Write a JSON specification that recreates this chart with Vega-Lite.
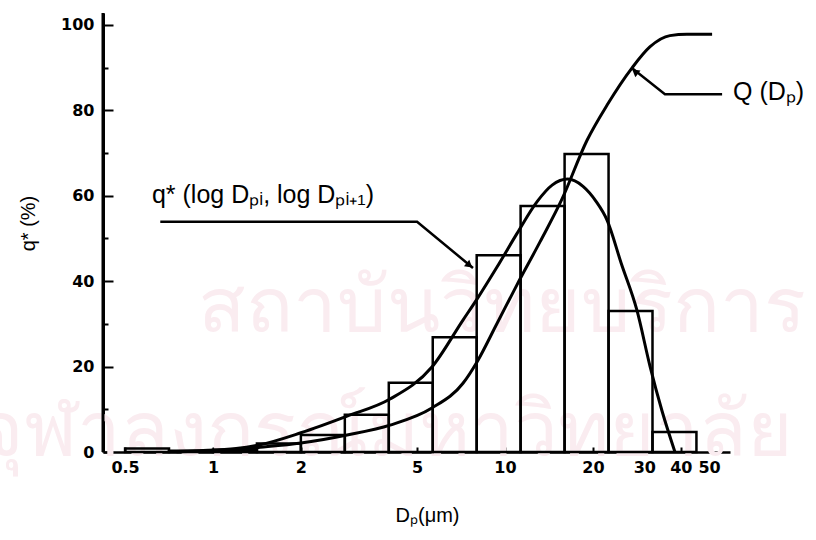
{
  "$schema": "https://vega.github.io/schema/vega-lite/v6.json",
  "width": 627,
  "height": 439,
  "autosize": "none",
  "padding": {"left": 103, "top": 13, "right": 86, "bottom": 88},
  "background": "white",
  "config": {
    "view": {"stroke": null},
    "axis": {
      "grid": false,
      "domainColor": "black",
      "domainWidth": 2.5,
      "tickColor": "black",
      "tickWidth": 2,
      "labelColor": "black",
      "titleColor": "black",
      "labelFont": "DejaVu Sans",
      "titleFont": "Liberation Sans",
      "zindex": 1
    }
  },
  "datasets": {
    "watermark": [
      {"D": 9.77, "v": 28.1, "text": "สถาบันวิทยบริการ"},
      {"D": 3.9, "v": -1.0, "text": "จุฬาลงกรณ์มหาวิทยาลัย"}
    ],
    "bars": [
      {"D": 0.5, "D2": 0.707, "v": 0.8},
      {"D": 0.707, "D2": 1.0, "v": 0.3},
      {"D": 1.0, "D2": 1.414, "v": 0.5},
      {"D": 1.414, "D2": 2.0, "v": 2.0},
      {"D": 2.0, "D2": 2.828, "v": 4.0},
      {"D": 2.828, "D2": 4.0, "v": 8.7},
      {"D": 4.0, "D2": 5.657, "v": 16.2},
      {"D": 5.657, "D2": 8.0, "v": 26.9},
      {"D": 8.0, "D2": 11.31, "v": 46.1},
      {"D": 11.31, "D2": 16.0, "v": 57.6},
      {"D": 16.0, "D2": 22.63, "v": 69.8},
      {"D": 22.63, "D2": 32.0, "v": 33.0},
      {"D": 32.0, "D2": 45.25, "v": 4.7}
    ],
    "curves": [
      {"series": "q", "D": 0.75, "v": 0.1},
      {"series": "q", "D": 0.9, "v": 0.3},
      {"series": "q", "D": 1.2, "v": 0.8},
      {"series": "q", "D": 1.45, "v": 1.7},
      {"series": "q", "D": 2.0, "v": 4.5},
      {"series": "q", "D": 2.88, "v": 8.4},
      {"series": "q", "D": 4.04, "v": 12.4},
      {"series": "q", "D": 5.62, "v": 19.9},
      {"series": "q", "D": 7.18, "v": 30.9},
      {"series": "q", "D": 8.02, "v": 35.8},
      {"series": "q", "D": 9.39, "v": 43.3},
      {"series": "q", "D": 11.0, "v": 51.2},
      {"series": "q", "D": 12.9, "v": 58.7},
      {"series": "q", "D": 14.5, "v": 62.5},
      {"series": "q", "D": 16.4, "v": 63.9},
      {"series": "q", "D": 18.5, "v": 62.2},
      {"series": "q", "D": 20.5, "v": 58.7},
      {"series": "q", "D": 22.4, "v": 54.2},
      {"series": "q", "D": 25.0, "v": 44.2},
      {"series": "q", "D": 28.3, "v": 33.2},
      {"series": "q", "D": 31.4, "v": 20.0},
      {"series": "q", "D": 34.5, "v": 9.6},
      {"series": "q", "D": 38.2, "v": 0},
      {"series": "Q", "D": 0.75, "v": 0.05},
      {"series": "Q", "D": 0.9, "v": 0.2},
      {"series": "Q", "D": 1.2, "v": 0.6},
      {"series": "Q", "D": 1.45, "v": 1.1},
      {"series": "Q", "D": 2.0, "v": 2.1},
      {"series": "Q", "D": 2.88, "v": 4.0},
      {"series": "Q", "D": 4.04, "v": 6.3},
      {"series": "Q", "D": 5.62, "v": 10.3},
      {"series": "Q", "D": 7.18, "v": 16.1},
      {"series": "Q", "D": 8.02, "v": 21.1},
      {"series": "Q", "D": 9.39, "v": 30.1},
      {"series": "Q", "D": 11.0, "v": 39.2},
      {"series": "Q", "D": 13.18, "v": 49.2},
      {"series": "Q", "D": 15.67, "v": 59.2},
      {"series": "Q", "D": 19.1, "v": 73.0},
      {"series": "Q", "D": 22.4, "v": 81.3},
      {"series": "Q", "D": 27.2, "v": 89.9},
      {"series": "Q", "D": 31.4, "v": 94.9},
      {"series": "Q", "D": 36.7, "v": 97.5},
      {"series": "Q", "D": 42.0, "v": 97.8},
      {"series": "Q", "D": 51.2, "v": 97.8}
    ],
    "leaders": [
      {"g": "A", "D": 0.66, "v": 53.9},
      {"g": "A", "D": 5.0, "v": 53.9},
      {"g": "A", "D": 7.77, "v": 43.1},
      {"g": "B", "D": 27.2, "v": 89.9},
      {"g": "B", "D": 35.3, "v": 83.8},
      {"g": "B", "D": 55.4, "v": 83.8}
    ],
    "arrowA": [{"D": 7.5, "v": 43.9}],
    "arrowB": [{"D": 28.1, "v": 88.9}],
    "labels": [
      {"D": 0.618, "v": 58.3, "text": "q* (log Dₚᵢ, log Dₚᵢ₊₁)"},
      {"D": 60.4, "v": 82.4, "text": "Q (Dₚ)"}
    ],
    "yline": [{"D": 0.4201, "v": 0, "v2": 102.8}],
    "minor": [{"v": 10}, {"v": 90}]
  },
  "layer": [
    {
      "encoding": {
        "x": {
          "field": "D",
          "type": "quantitative",
          "scale": {"type": "log", "domain": [0.4201, 58.96], "nice": false},
          "axis": {
            "values": [0.5, 1, 2, 5, 10, 20, 30, 40, 50],
            "format": "~g",
            "labelOverlap": false,
            "labelFontSize": 16,
            "labelFontWeight": "bold",
            "tickSize": -5,
            "labelPadding": 12,
            "title": "Dₚ(μm)",
            "titleFontSize": 20,
            "titleFontWeight": "normal",
            "titlePadding": 30,
            "titleX": 324
          }
        },
        "y": {
          "field": "v",
          "type": "quantitative",
          "scale": {"domain": [0, 102.8], "nice": false},
          "axis": {
            "values": [0, 20, 40, 60, 80, 100],
            "labelFontSize": 16,
            "labelFontWeight": "bold",
            "tickSize": -10,
            "labelPadding": 19,
            "domainColor": "#000000",
            "domainWidth": 3,
            "title": "q* (%)",
            "titleFontSize": 20,
            "titleFontWeight": "normal",
            "titlePadding": 22,
            "titleY": 210
          }
        }
      },
      "layer": [
        {
          "data": {"name": "watermark"},
          "mark": {"type": "text", "align": "center", "baseline": "alphabetic", "fontSize": 78, "color": "#faecf0", "clip": false},
          "encoding": {"text": {"field": "text"}}
        },
        {
          "data": {"name": "bars"},
          "mark": {"type": "rect", "fill": "transparent", "stroke": "black", "strokeWidth": 2.5},
          "encoding": {"x2": {"field": "D2"}, "y2": {"datum": 0}}
        },
        {
          "data": {"name": "yline"},
          "mark": {"type": "rule", "color": "black", "strokeWidth": 3, "clip": false},
          "encoding": {"y2": {"field": "v2"}}
        },
        {
          "data": {"name": "curves"},
          "mark": {"type": "line", "color": "black", "strokeWidth": 3, "interpolate": "monotone"},
          "encoding": {"detail": {"field": "series"}}
        },
        {
          "data": {"name": "leaders"},
          "mark": {"type": "line", "color": "black", "strokeWidth": 2.5, "clip": false},
          "encoding": {"detail": {"field": "g"}}
        },
        {
          "data": {"name": "arrowA"},
          "mark": {"type": "point", "shape": "triangle", "angle": 129, "size": 70, "filled": true, "color": "black", "opacity": 1},
          "encoding": {}
        },
        {
          "data": {"name": "arrowB"},
          "mark": {"type": "point", "shape": "triangle", "angle": 308, "size": 70, "filled": true, "color": "black", "opacity": 1},
          "encoding": {}
        },
        {
          "data": {"name": "labels"},
          "mark": {"type": "text", "align": "left", "baseline": "alphabetic", "font": "Liberation Sans", "fontSize": 25, "color": "black", "clip": false},
          "encoding": {"text": {"field": "text"}}
        }
      ]
    },
    {
      "data": {"name": "minor"},
      "mark": {"type": "point", "opacity": 0},
      "encoding": {
        "y": {
          "field": "v",
          "type": "quantitative",
          "scale": {"domain": [0, 102.8], "nice": false},
          "axis": {
            "orient": "left",
            "values": [10, 30, 50, 70, 90],
            "labels": false,
            "domain": false,
            "tickSize": -5,
            "title": null
          }
        }
      }
    }
  ],
  "resolve": {"axis": {"y": "independent"}}
}
